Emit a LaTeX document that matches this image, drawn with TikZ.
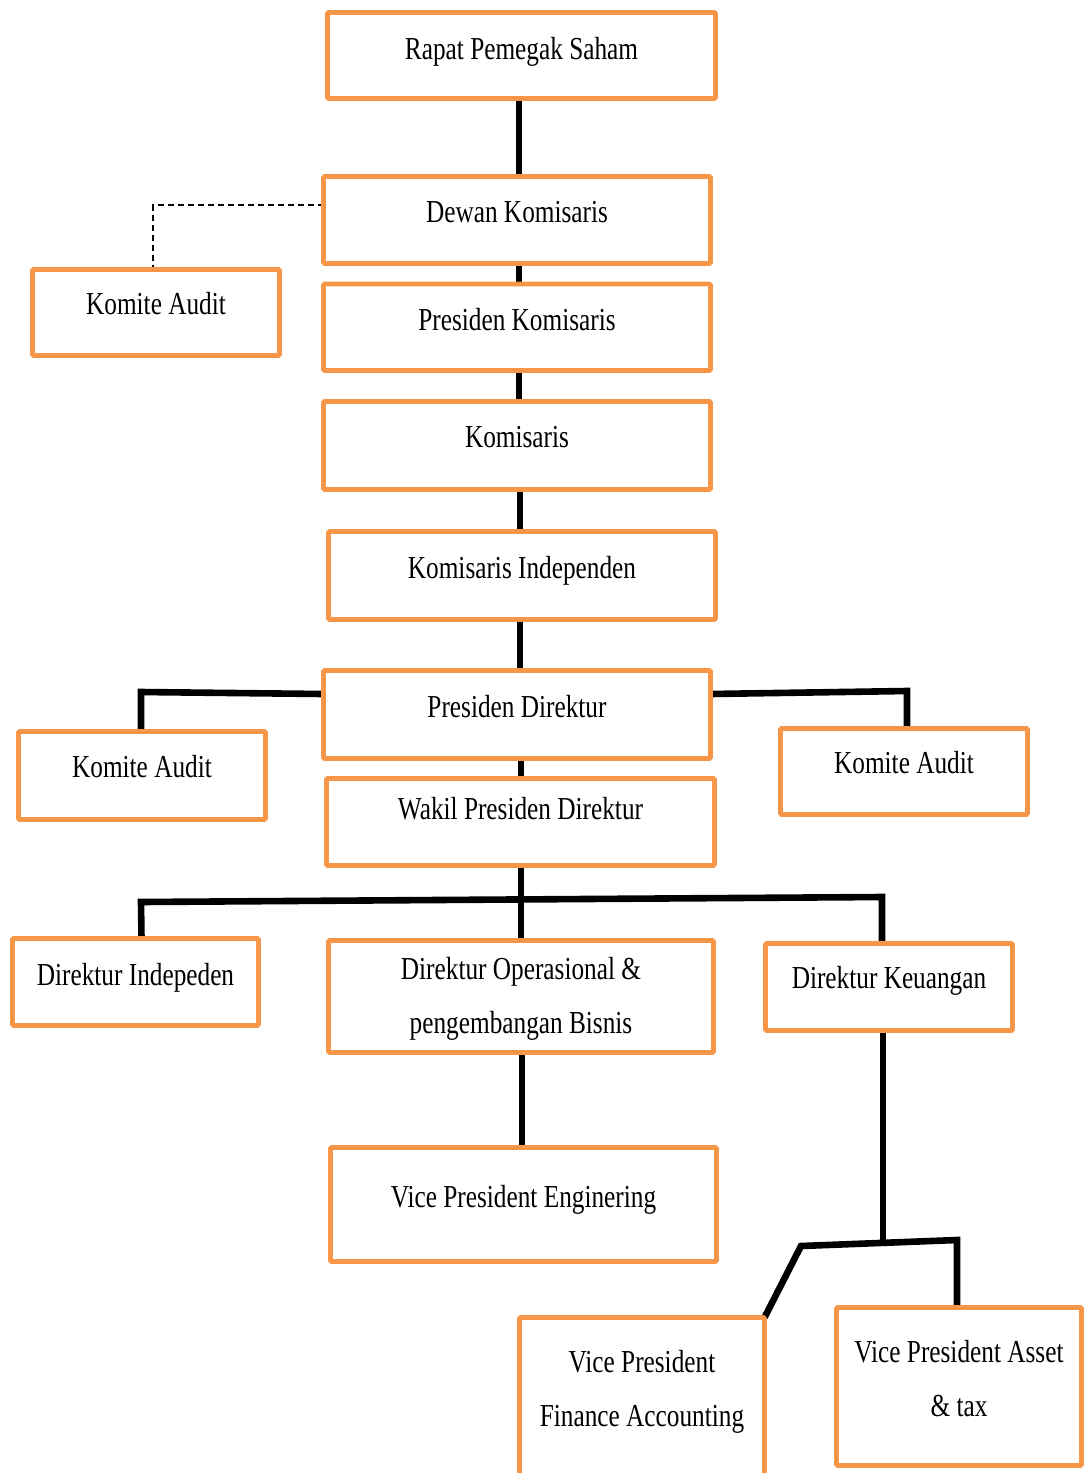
\documentclass[tikz,border=0pt]{standalone}
\usepackage{fontspec}
\setmainfont[FakeStretch=0.79]{Liberation Serif}
\usetikzlibrary{calc}
\pgfdeclarelayer{background}
\pgfsetlayers{background,main}
\definecolor{boxorange}{RGB}{247,150,70}
\newcommand\obox[5]{\node[box, minimum width=#4*0.5pt, minimum height=#5*0.5pt] (#1) at (#2,#3) {};}
\begin{document}
\begin{tikzpicture}[x=0.5pt,y=-0.5pt,
  box/.style={draw=boxorange, line width=2.35pt, inner sep=0pt, outer sep=0pt, rounded corners=0.6pt, rectangle},
  lbl/.style={font=\fontsize{16}{27}\selectfont, inner sep=0pt, outer sep=0pt, anchor=base, text=black},
  conn/.style={line width=3.3pt, draw=black, line join=miter},
  dashline/.style={line width=0.8pt, draw=black, dash pattern=on 3pt off 2pt}]
\useasboundingbox (0,0) rectangle (1084,1473);
\clip (0,0) rectangle (1084,1473);
% boxes
\obox{rapat}{521.5}{55.5}{388}{86}
\obox{dewan}{517}{220}{387}{87}
\obox{pk}{517}{327.25}{387}{86.5}
\obox{kom}{517}{445.5}{387}{88}
\obox{ki}{522}{575.5}{387}{88}
\obox{pd}{517}{714.5}{387}{88}
\obox{wakil}{520.5}{822}{388}{87}
\obox{ka1}{156}{312.5}{247}{86}
\obox{ka2}{142}{775.5}{247}{88}
\obox{ka3}{904}{771.5}{247}{86}
\obox{di}{135.5}{982}{246}{87}
\obox{dirops}{521}{996.5}{385}{112}
\obox{dk}{889}{987}{247}{87}
\obox{vpe}{523.5}{1204.5}{386}{114}
\obox{vpf}{642}{1423.75}{245}{212.5}
\obox{vpa}{959}{1386.5}{245}{158}
% labels
\node[lbl] (rapat-t) at (521.5,59) {Rapat Pemegak Saham};
\node[lbl] (dewan-t) at (517,222) {Dewan Komisaris};
\node[lbl] (pk-t) at (517,330) {Presiden Komisaris};
\node[lbl] (kom-t) at (517,447) {Komisaris};
\node[lbl] (ki-t) at (522,578) {Komisaris Independen};
\node[lbl] (pd-t) at (517,717) {Presiden Direktur};
\node[lbl] (wakil-t) at (520.5,819) {Wakil Presiden Direktur};
\node[lbl] (ka1-t) at (156,314) {Komite Audit};
\node[lbl] (ka2-t) at (142,777) {Komite Audit};
\node[lbl] (ka3-t) at (904,773) {Komite Audit};
\node[lbl] (di-t) at (135.5,985) {Direktur Indepeden};
\node[lbl] (dirops-t) at (521,979) {\begin{tabular}[t]{@{}c@{}}Direktur Operasional \&\\ pengembangan Bisnis\end{tabular}};
\node[lbl] (dk-t) at (889,988) {Direktur Keuangan};
\node[lbl] (vpe-t) at (523.5,1207) {Vice President Enginering};
\node[lbl] (vpf-t) at (642,1372) {\begin{tabular}[t]{@{}c@{}}Vice President\\ Finance Accounting\end{tabular}};
\node[lbl] (vpa-t) at (959,1362) {\begin{tabular}[t]{@{}c@{}}Vice President Asset\\ \& tax\end{tabular}};
% connectors
\coordinate (busL) at (141,902);
\coordinate (busR) at (882,897);
\coordinate (b2M) at (883,1243);
\coordinate (b2L) at (801,1246);
\coordinate (b2R) at (957,1240);
\begin{pgfonlayer}{background}
\draw[conn] ($(rapat.south)+(-2.5,0)$) -- ($(dewan.north)+(2,0)$);
\draw[conn] ($(dewan.south)+(2,0)$) -- ($(pk.north)+(2,0)$);
\draw[conn] ($(pk.south)+(2,0)$) -- ($(kom.north)+(2,0)$);
\draw[conn] ($(kom.south)+(3,0)$) -- ($(ki.north)+(-2,0)$);
\draw[conn] ($(ki.south)+(-2,0)$) -- ($(pd.north)+(3,0)$);
\draw[conn] ($(pd.west)+(0,-20.5)$) -- ($(ka2.north)+(-1,-39.5)$) -- ($(ka2.north)+(-1,0)$);
\draw[conn] ($(pd.east)+(0,-20.5)$) -- ($(ka3.north)+(3,-37.5)$) -- ($(ka3.north)+(3,0)$);
\draw[conn] ($(pd.south)+(4,0)$) -- ($(wakil.north)+(0.5,0)$);
\draw[conn] ($(wakil.south)+(0.5,0)$) -- (dirops.north);
\draw[conn] ($(di.north)+(6,0)$) -- (busL) -- (busR) -- ($(dk.north)+(-7,0)$);
\draw[conn] ($(dirops.south)+(1,0)$) -- ($(vpe.north)+(-1.5,0)$);
\draw[conn] ($(dk.south)+(-6,0)$) -- (b2M);
\draw[conn] (vpf.north east) -- (b2L) -- (b2R) -- ($(vpa.north)+(-2,0)$);
\draw[dashline] ($(dewan.west)+(0,-15)$) -- ($(ka1.north)+(-3,-64.5)$) -- ($(ka1.north)+(-3,0)$);
\end{pgfonlayer}
\end{tikzpicture}
\end{document}
